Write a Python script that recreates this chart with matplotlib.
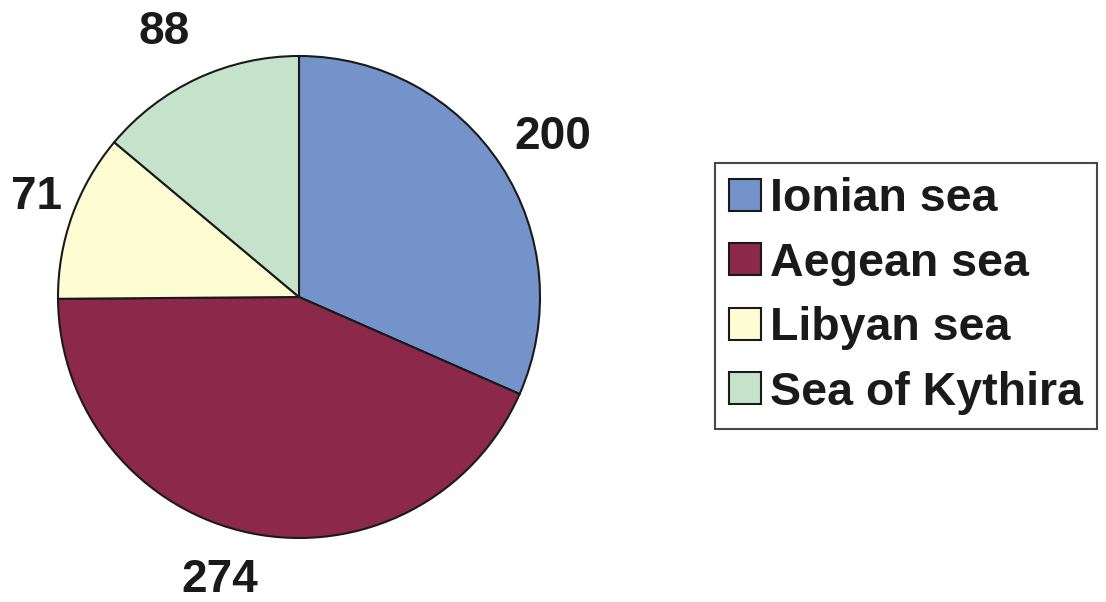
import numpy as np
import matplotlib.pyplot as plt

seas = ['Ionian sea', 'Aegean sea', 'Libyan sea', 'Sea of Kythira']
counts = [200, 274, 71, 88]
colours = ['#7493CB', '#8C2849', '#FDFCD3', '#C5E3CB']

plt.rcParams['font.family'] = ['Liberation Sans', 'DejaVu Sans']

fig = plt.figure(figsize=(11.06, 6.02), dpi=100)
ax = fig.add_axes([58 / 1106, 64 / 602, 482 / 1106, 482 / 602])

wedges, _ = ax.pie(counts, colors=colours, startangle=90, counterclock=False,
                   wedgeprops=dict(edgecolor='#1a1a1a', linewidth=1.5))
ax.set_xlim(-1, 1)
ax.set_ylim(-1, 1)
ax.set_aspect('equal')

# value labels placed outside each wedge (angle tweak, distance from centre)
nudge = [(-1, 1.245), (-4, 1.22), (-1, 1.165), (2, 1.235)]
for w, c, (da, dist) in zip(wedges, counts, nudge):
    ang = np.deg2rad((w.theta1 + w.theta2) / 2 + da)
    ax.text(dist * np.cos(ang), dist * np.sin(ang), str(c), ha='center', va='center',
            fontsize=33, fontweight='bold', color='#1a1a1a', clip_on=False)

leg = fig.legend(wedges, seas, loc='center left', bbox_to_anchor=(715 / 1106, 1 - 296 / 602),
                 prop=dict(size=33.5, weight='bold'), fancybox=False, edgecolor='#1a1a1a',
                 handlelength=0.68, handleheight=0.68, handletextpad=0.2,
                 labelspacing=0.44, borderpad=0.3, borderaxespad=0)
leg.get_frame().set_linewidth(1.5)
for txt in leg.get_texts():
    txt.set_color('#1a1a1a')

fig.savefig('out.png', dpi=100)
